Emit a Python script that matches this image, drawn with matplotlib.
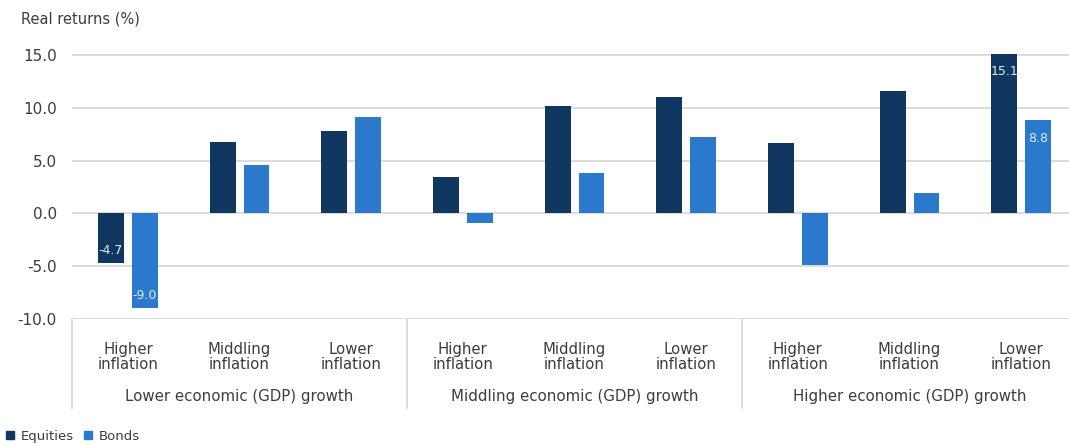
import matplotlib.pyplot as plt
import numpy as np
from matplotlib.lines import Line2D

# Data
inflation_labels = ['Higher\ninflation', 'Middling\ninflation', 'Lower\ninflation'] * 3
growth_labels = ['Lower economic (GDP) growth',
                 'Middling economic (GDP) growth',
                 'Higher economic (GDP) growth']
equities = [-4.7, 6.8, 7.8, 3.4, 10.2, 11.0, 6.7, 11.6, 15.1]
bonds = [-9.0, 4.6, 9.1, -0.9, 3.8, 7.2, -4.9, 1.9, 8.8]
# only these bars carry a value label in the original
labelled_equities = [0, 8]
labelled_bonds = [0, 8]
y_ticks = [-10, -5, 0, 5, 10, 15]

EQ_COLOR = '#10375f'
BD_COLOR = '#2a79cc'
TEXT_COLOR = '#3c3c3c'
GRID_COLOR = '#d6d6d6'

plt.rcParams['font.family'] = ['DejaVu Sans']

fig = plt.figure(figsize=(10.69, 4.46), dpi=100)
ax = fig.add_axes([0.0674, 0.2848, 0.9401, 0.6156])

x = np.arange(len(equities))
width = 0.232
offset = 0.152

ax.bar(x - offset, equities, width, color=EQ_COLOR, zorder=3)
ax.bar(x + offset, bonds, width, color=BD_COLOR, zorder=3)

# value labels inside the bar ends
for i in labelled_equities:
    v = equities[i]
    ax.annotate(f'{v:.1f}', (x[i] - offset, v), xytext=(0, -13 if v > 0 else 9),
                textcoords='offset points', ha='center', va='center',
                color='#dfe9f6', fontsize=9, zorder=4)
for i in labelled_bonds:
    v = bonds[i]
    ax.annotate(f'{v:.1f}', (x[i] + offset, v), xytext=(0, -13 if v > 0 else 9),
                textcoords='offset points', ha='center', va='center',
                color='#dfe9f6', fontsize=9, zorder=4)

ax.set_xlim(-0.5, len(equities) - 0.5)
ax.set_ylim(-10, 16)
ax.set_yticks(y_ticks)
ax.set_yticklabels([f'{t:.1f}' for t in y_ticks])
ax.tick_params(axis='y', length=0, pad=11, labelsize=11, labelcolor=TEXT_COLOR)
ax.set_xticks([])
for s in ax.spines.values():
    s.set_visible(False)
ax.yaxis.grid(True, color=GRID_COLOR, linewidth=1.2, zorder=0)

# category box below the plot
trans = ax.get_xaxis_transform()
for sep in [-0.5, 2.5, 5.5]:
    ax.plot([sep, sep], [0, -0.325], transform=trans, color=GRID_COLOR,
            linewidth=1.2, clip_on=False)

for i, lab in enumerate(inflation_labels):
    ax.text(x[i], -0.138, lab, transform=trans, ha='center', va='center',
            fontsize=10.7, color=TEXT_COLOR, linespacing=1.05)
for g, lab in enumerate(growth_labels):
    ax.text(3 * g + 1, -0.283, lab, transform=trans, ha='center', va='center',
            fontsize=10.8, color=TEXT_COLOR)

fig.text(0.02, 0.958, 'Real returns (%)', ha='left', va='center',
         fontsize=10.5, color=TEXT_COLOR)

handles = [Line2D([], [], marker='s', linestyle='', color=EQ_COLOR, markersize=6),
           Line2D([], [], marker='s', linestyle='', color=BD_COLOR, markersize=6)]
fig.legend(handles, ['Equities', 'Bonds'], loc='lower left',
           bbox_to_anchor=(-0.008, -0.02), ncol=2, frameon=False,
           handletextpad=0.3, columnspacing=0.6, handlelength=1.0,
           prop={'size': 9.5}, labelcolor=TEXT_COLOR)

fig.savefig('out.png', dpi=100)
